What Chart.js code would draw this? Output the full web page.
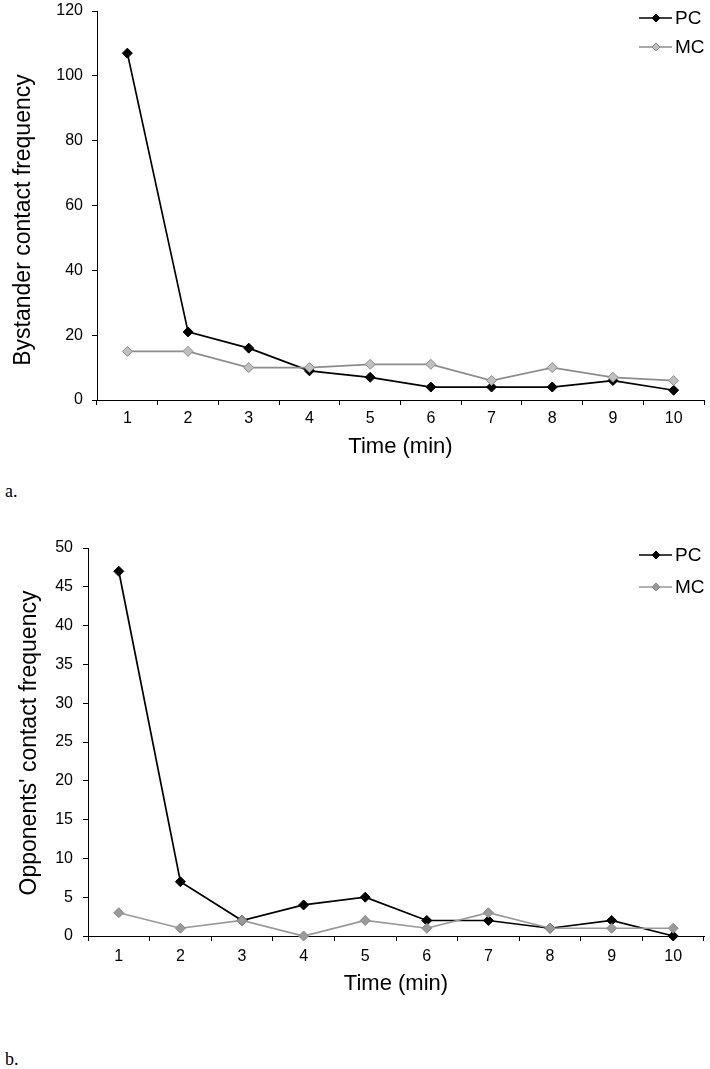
<!DOCTYPE html>
<html>
<head>
<meta charset="utf-8">
<script src="https://cdn.jsdelivr.net/npm/chart.js@4.4.1/dist/chart.umd.min.js"></script>
<style>
  body { margin: 0; background: #fff; width: 710px; height: 1069px; position: relative; overflow: hidden; }
  .box { position: absolute; left: 0; width: 710px; }
  .lbl { position: absolute; left: 5px; font: 18px "Liberation Serif", serif; line-height: 18px; color: #000; }
</style>
</head>
<body>
<div class="box" style="top:0;height:470px"><canvas id="chartA"></canvas></div>
<div class="lbl" style="top:482px">a.</div>
<div class="box" style="top:500px;height:507px"><canvas id="chartB"></canvas></div>
<div class="lbl" style="top:1050px">b.</div>
<script>
const minutes = ['1', '2', '3', '4', '5', '6', '7', '8', '9', '10'];

// a. bystander contacts
const bystanderPC = [107, 21, 16, 9, 7, 4, 4, 4, 6, 3];
const bystanderMC = [15, 15, 10, 10, 11, 11, 6, 10, 7, 6];
const bystanderTicks = [0, 20, 40, 60, 80, 100, 120];

// b. opponents' contacts
const opponentPC = [47, 7, 2, 4, 5, 2, 2, 1, 2, 0];
const opponentMC = [3, 1, 2, 0, 2, 1, 3, 1, 1, 1];
const opponentTicks = [0, 5, 10, 15, 20, 25, 30, 35, 40, 45, 50];

Chart.defaults.font.family = '"Liberation Sans", Arial, sans-serif';
Chart.defaults.color = '#000';

// legend drawn inside the plot: line with diamond, then the name
const lineLegend = {
    id: 'lineLegend',
    afterDraw(chart, args, opts) {
        const ctx = chart.ctx;
        ctx.save();
        chart.data.datasets.forEach((ds, i) => {
            const y = opts.top + i * opts.gap;
            const cx = opts.left + 17;
            ctx.strokeStyle = ds.borderColor;
            ctx.lineWidth = ds.borderWidth;
            ctx.beginPath();
            ctx.moveTo(opts.left, y);
            ctx.lineTo(opts.left + 33, y);
            ctx.stroke();
            ctx.beginPath();
            ctx.moveTo(cx, y - 4); ctx.lineTo(cx + 4, y); ctx.lineTo(cx, y + 4); ctx.lineTo(cx - 4, y);
            ctx.closePath();
            ctx.fillStyle = ds.pointBackgroundColor;
            ctx.fill();
            ctx.lineWidth = 1;
            ctx.strokeStyle = ds.pointBorderColor;
            ctx.stroke();
            ctx.fillStyle = '#000';
            ctx.font = '19px "Liberation Sans", Arial, sans-serif';
            ctx.textAlign = 'left';
            ctx.textBaseline = 'middle';
            ctx.fillText(ds.label, opts.left + 36, y + 1);
        });
        ctx.restore();
    }
};

// rotated y title, placed by hand
const sideTitle = {
    id: 'sideTitle',
    afterDraw(chart, args, opts) {
        const ctx = chart.ctx;
        ctx.save();
        ctx.translate(opts.x, opts.y);
        ctx.rotate(-Math.PI / 2);
        ctx.font = '23px "Liberation Sans", Arial, sans-serif';
        ctx.fillStyle = '#000';
        ctx.textAlign = 'center';
        ctx.textBaseline = 'middle';
        ctx.fillText(opts.text, 0, 0);
        ctx.restore();
    }
};

function disegna(id, pc, mc, ticks, s) {
    const ctx = document.getElementById(id).getContext('2d');
    return new Chart(ctx, {
        type: 'line',
        data: {
            labels: minutes,
            datasets: [{
                label: 'PC',
                data: pc,
                borderColor: '#000',
                borderWidth: 1.7,
                pointStyle: 'rectRot',
                pointRadius: 5,
                pointBorderWidth: 1,
                pointBackgroundColor: '#000',
                pointBorderColor: '#000',
                tension: 0,
                clip: false,
                order: 1
            }, {
                label: 'MC',
                data: mc,
                borderColor: s.mcLine,
                borderWidth: 1.7,
                pointStyle: 'rectRot',
                pointRadius: 5,
                pointBorderWidth: 1,
                pointBackgroundColor: s.mcFill,
                pointBorderColor: '#8a8a8a',
                tension: 0,
                clip: false,
                order: 0
            }]
        },
        options: {
            responsive: true,
            maintainAspectRatio: false,
            animation: false,
            layout: { padding: { top: s.top, right: 6, left: 0, bottom: 0 } },
            plugins: {
                legend: { display: false },
                tooltip: { enabled: false },
                lineLegend: { left: 639, top: s.legendTop, gap: s.legendGap },
                sideTitle: { text: s.yTitle, x: s.titleX, y: s.titleY }
            },
            scales: {
                x: {
                    offset: true,
                    grid: { drawOnChartArea: false, offset: true, tickLength: 5, color: '#000' },
                    border: { color: '#000', width: 1 },
                    ticks: { font: { size: 16 }, padding: s.xPad, color: '#000' },
                    title: { display: true, text: 'Time (min)', font: { size: 22 }, color: '#000', padding: { top: 0, bottom: 10 } },
                    afterFit: sc => { sc.height = s.xHeight; }
                },
                y: {
                    min: ticks[0],
                    max: ticks[ticks.length - 1],
                    grid: { drawOnChartArea: false, tickLength: 5, color: '#000' },
                    border: { color: '#000', width: 1 },
                    ticks: { stepSize: ticks[1] - ticks[0], font: { size: 16 }, padding: s.yPad, color: '#000' },
                    afterFit: sc => { sc.width = s.yWidth; sc.paddingTop = 0; }
                }
            }
        },
        plugins: [lineLegend, sideTitle]
    });
}

disegna('chartA', bystanderPC, bystanderMC, bystanderTicks, {
    top: 11, xHeight: 70, yWidth: 97, xPad: 4, yPad: 9,
    legendTop: 18, legendGap: 29,
    yTitle: 'Bystander contact frequency', titleX: 24, titleY: 220,
    mcLine: '#8c8c8c', mcFill: '#c0c0c0'
});

disegna('chartB', opponentPC, opponentMC, opponentTicks, {
    top: 48, xHeight: 71, yWidth: 88, xPad: 6, yPad: 10,
    legendTop: 55, legendGap: 32,
    yTitle: "Opponents' contact frequency", titleX: 30, titleY: 243,
    mcLine: '#999999', mcFill: '#9a9a9a'
});
</script>
</body>
</html>
